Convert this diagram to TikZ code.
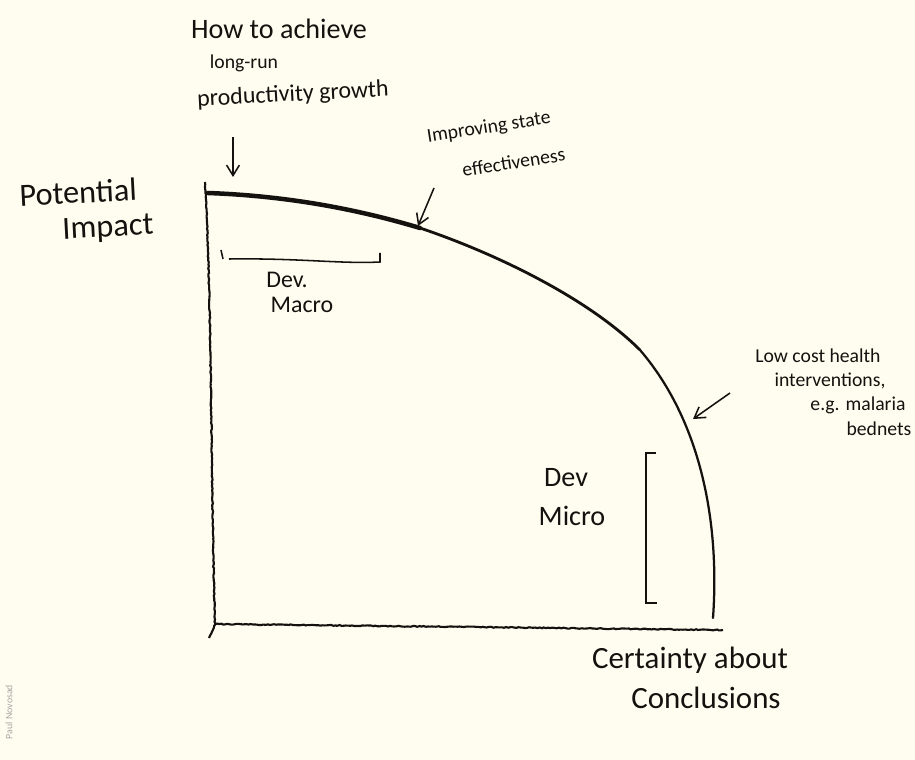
\documentclass[tikz,border=0pt]{standalone}
\usepackage{fontspec}
\setmainfont{Carlito}
\usepackage{xcolor}
\usetikzlibrary{arrows.meta,decorations.pathmorphing}
\definecolor{paper_cream}{RGB}{255, 253, 240}
\definecolor{pen_ink}{RGB}{20, 18, 14}

\begin{document}
\begin{tikzpicture}[x=0.025cm, y=-0.025cm,
    every node/.style={text=pen_ink, inner sep=0pt},
    note/.style={font=\fontsize{14}{16}\selectfont},
    pointer/.style={draw=pen_ink, line width=1.1pt, -{Straight Barb[length=2.6mm, width=3.2mm]}},
    sketchline/.style={draw=pen_ink, line width=1.5pt,
      decorate, decoration={random steps, segment length=1.5pt, amplitude=0.35pt}}]
        \fill[paper_cream] (0,0) rectangle (915,760);
        \useasboundingbox (0,0) rectangle (915,760);
        % axes
        \coordinate (top) at (205,182);
        \coordinate (origin) at (215,624);
        \coordinate (tail) at (209,638);
        \coordinate (xend) at (723,630);
        \draw[sketchline] (top) .. controls (212,300) and (211,500) .. (origin) -- (tail);
        \draw[sketchline] (origin) -- (xend);
        % the frontier, heavy at the top and thinning out
        \coordinate (f0) at (208,193);
        \coordinate (f1) at (420,228);
        \coordinate (f2) at (640,350);
        \coordinate (f3) at (713,618);
        \draw[pen_ink, line width=3.2pt, line cap=round]
          (f0) .. controls (290,196) and (360,210) .. (f1);
        \draw[pen_ink, line width=2pt, line cap=round]
          (f1) .. controls (500,255) and (590,300) .. (f2);
        \draw[pen_ink, line width=1.6pt, line cap=round]
          (f2) .. controls (700,420) and (720,520) .. (f3);
        % labels of the axes
        \node[font=\fontsize{23}{25}\selectfont, rotate=3] (potential) at (78,192) {Potential};
        \node[font=\fontsize{23}{25}\selectfont, rotate=3] (impact) at (108,229) {Impact};
        \node[font=\fontsize{22}{24}\selectfont] (certainty) at (690,660) {Certainty about};
        \node[font=\fontsize{22}{24}\selectfont] (conclusions) at (706,698) {Conclusions};
        % long-run growth
        \node[font=\fontsize{20}{22}\selectfont] (howA) at (279,29) {How to achieve};
        \node[font=\fontsize{14}{16}\selectfont] (howB) at (244,63) {long-run};
        \node[font=\fontsize{17}{19}\selectfont, rotate=3] (howC) at (293,95) {productivity growth};
        \coordinate (howtail) at (233,137);
        \coordinate (howtip) at (233,177);
        \draw[pointer] (howtail) -- (howtip);
        % state effectiveness
        \node[font=\fontsize{14}{28}\selectfont, rotate=9, align=left] (state) at (496,145)
          {Improving state\\\hspace{1.5em}effectiveness};
        \coordinate (statetail) at (434,188);
        \coordinate (statetip) at (418,226);
        \draw[pointer] (statetail) -- (statetip);
        % health interventions
        \node[note] (healthA) at (818,356) {Low cost health};
        \node[note] (healthB) at (830,381) {interventions,};
        \node[note] (healthC) at (858,405) {e.g. malaria};
        \node[note] (healthD) at (879,429) {bednets};
        \coordinate (healthtail) at (730,393);
        \coordinate (healthtip) at (693,419);
        \draw[pointer] (healthtail) -- (healthtip);
        % dev macro
        \coordinate (macroL) at (223,259);
        \coordinate (macroR) at (380,262);
        \draw[pen_ink, line width=1.1pt] (221,250) -- (macroL);
        \draw[pen_ink, line width=1.1pt] (229,259) .. controls (300,258) and (340,264) .. (macroR) -- (380,253);
        \node[font=\fontsize{17}{19}\selectfont] (macroA) at (287,280) {Dev.};
        \node[font=\fontsize{17}{19}\selectfont] (macroB) at (302,305) {Macro};
        % dev micro
        \coordinate (microT) at (646,453);
        \coordinate (microB) at (646,603);
        \draw[pen_ink, line width=1.3pt] (656,453) -- (microT) -- (microB) -- (657,603);
        \node[font=\fontsize{20}{22}\selectfont] (microA) at (566,478) {Dev};
        \node[font=\fontsize{20}{22}\selectfont] (microC) at (572,516) {Micro};
        % credit
        \node[rotate=90, font=\fontsize{7}{8}\selectfont, text=gray!70] (credit) at (9,712) {Paul Novosad};
      \end{tikzpicture}
\end{document}
